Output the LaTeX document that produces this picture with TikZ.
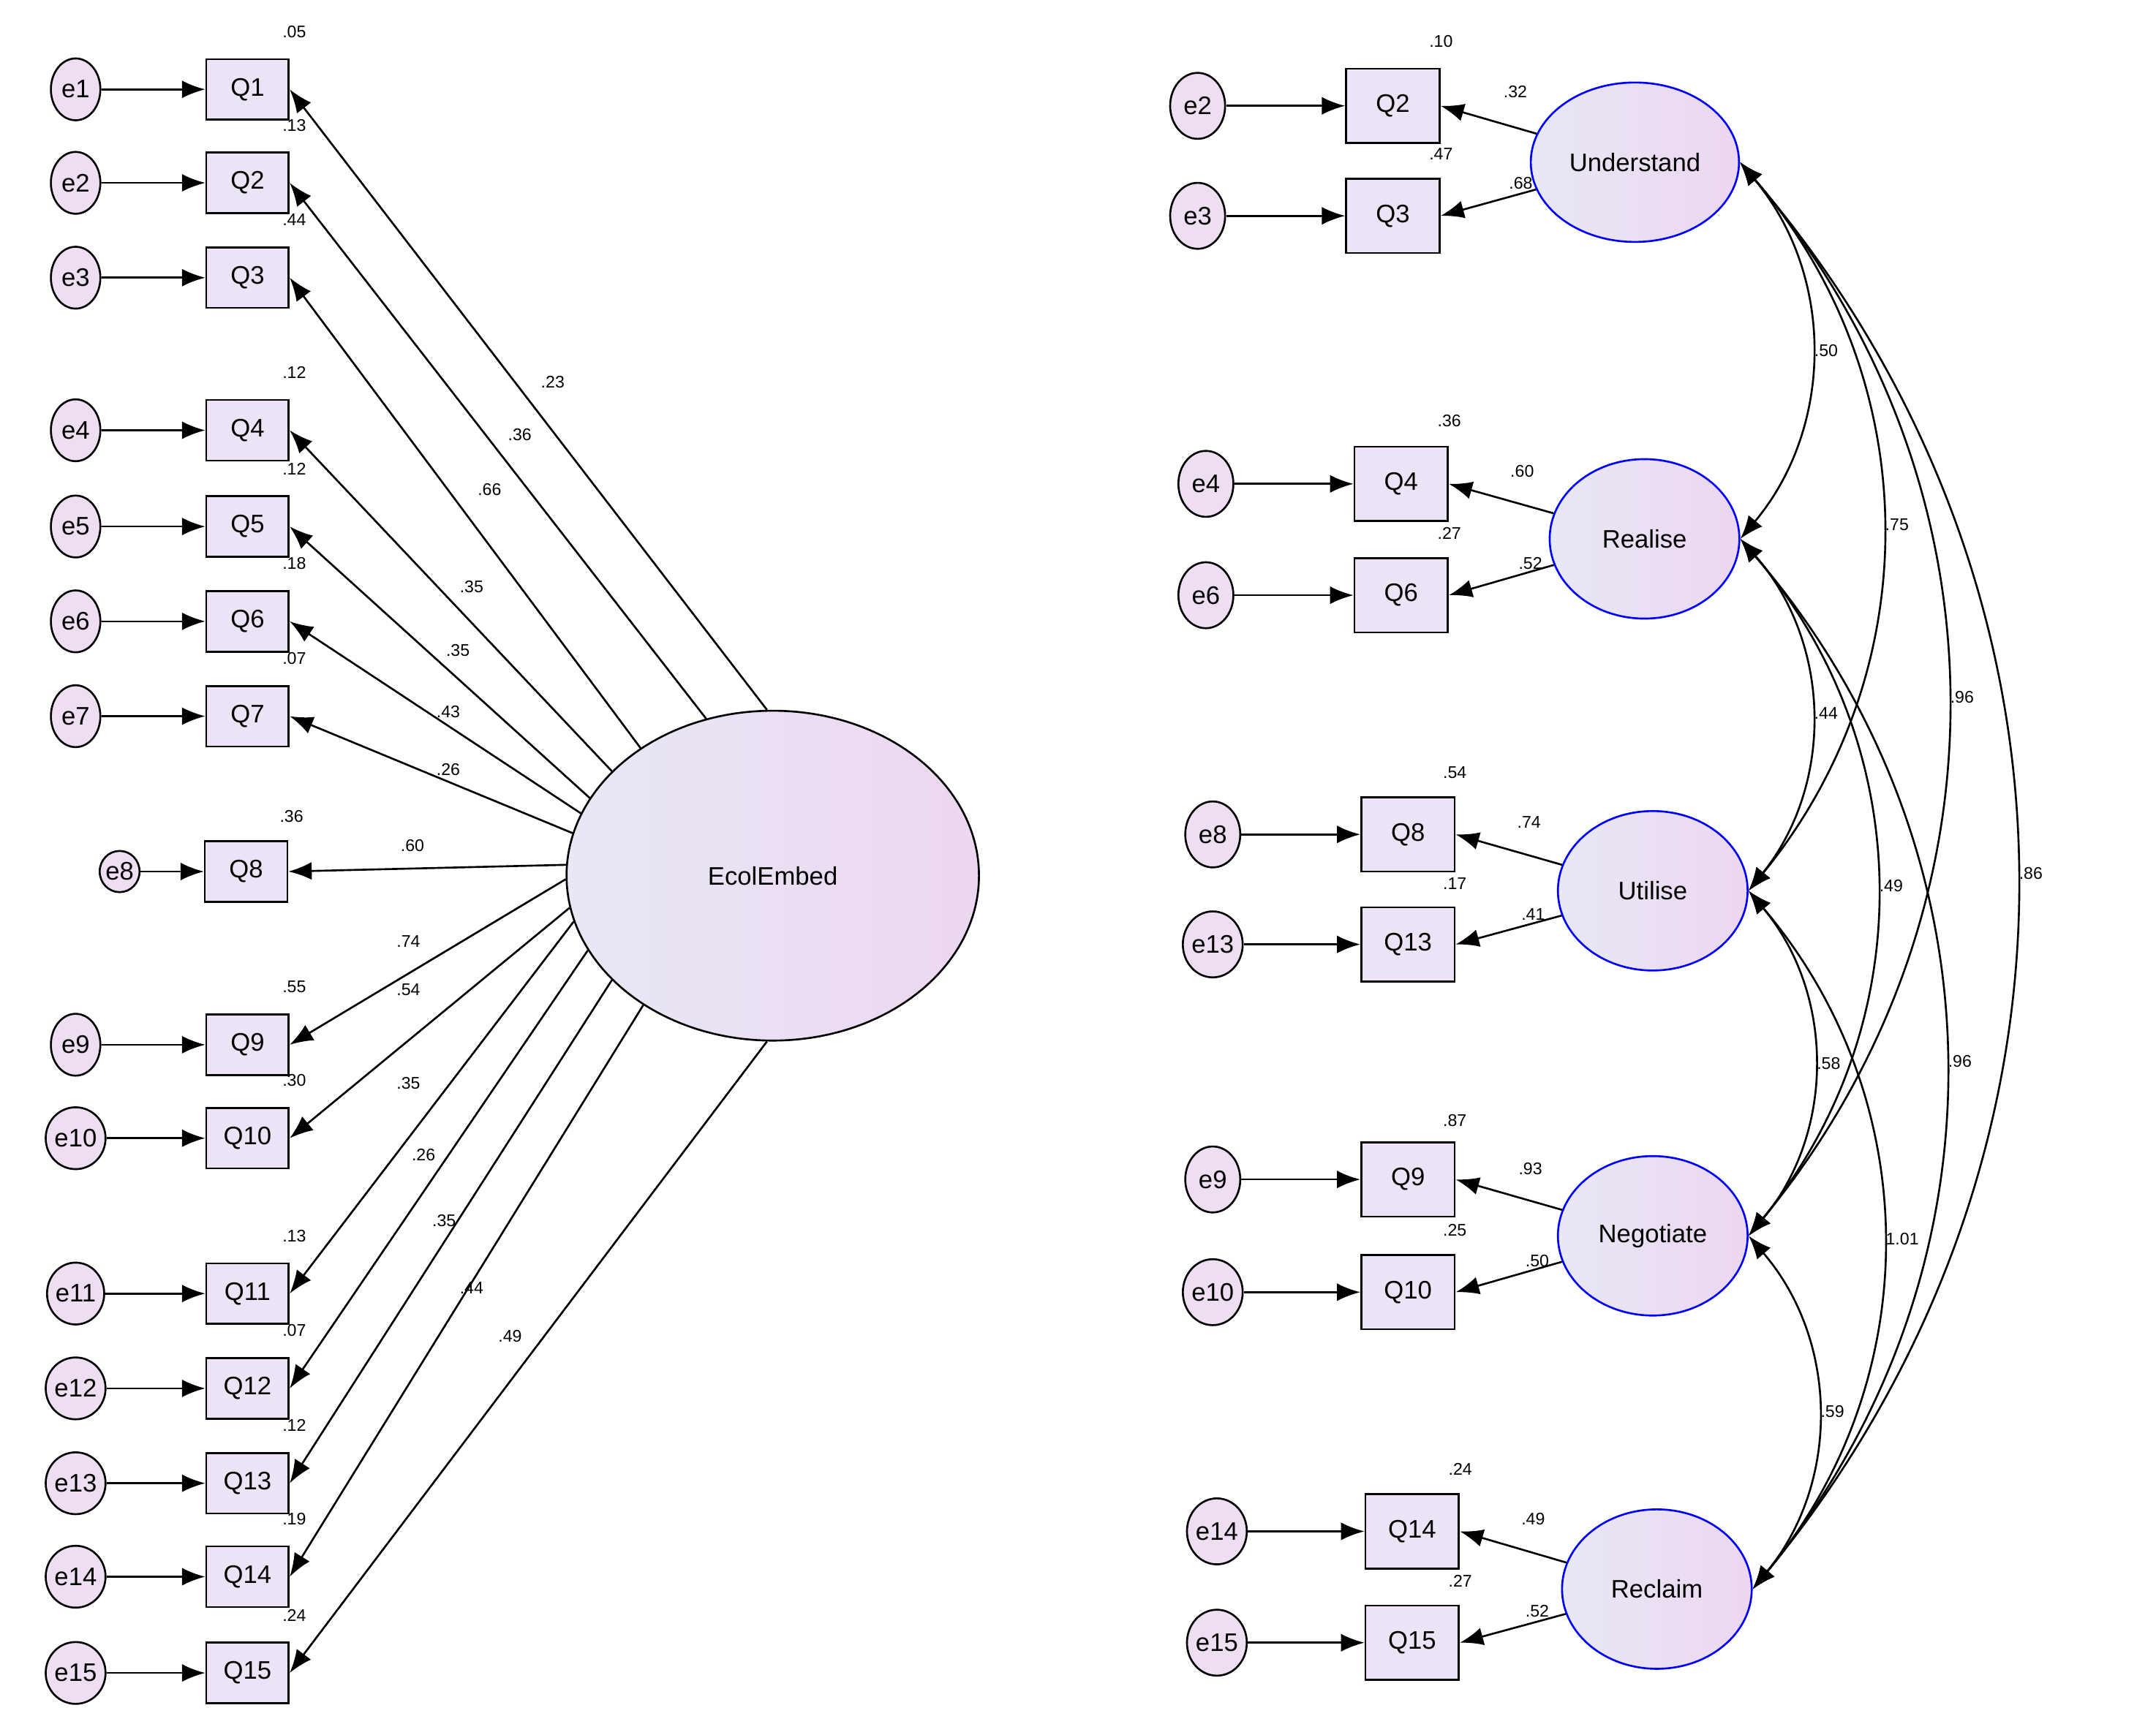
\documentclass[tikz,border=0pt]{standalone}
\usepackage{fontspec}
\setmainfont{Liberation Sans}
\usetikzlibrary{shapes.geometric,arrows.meta}
\begin{document}
\begin{tikzpicture}[x=0.02cm,y=-0.02cm,
  box/.style={draw,thick,fill={rgb,255:red,236;green,228;blue,246},minimum width=1.2cm,minimum height=0.88cm,font=\fontsize{10.5}{12}\selectfont,inner sep=0pt},
  rbox/.style={box,minimum width=1.36cm,minimum height=1.08cm},
  err/.style={draw,thick,ellipse,fill={rgb,255:red,238;green,222;blue,242},minimum width=0.72cm,minimum height=0.9cm,inner sep=0pt,font=\fontsize{10.5}{12}\selectfont},
  rerr/.style={err,minimum width=0.8cm,minimum height=0.96cm},
  lat/.style={ellipse,thick,left color={rgb,255:red,232;green,232;blue,244},right color={rgb,255:red,236;green,214;blue,242},font=\fontsize{10.5}{12}\selectfont},
  arr/.style={-{Latex[length=0.34cm,width=0.26cm]},thick},
  lab/.style={font=\fontsize{7}{8}\selectfont,inner sep=1pt},
  cov/.style={{Latex[length=0.34cm,width=0.26cm]}-{Latex[length=0.34cm,width=0.26cm]},thick,bend left=40}
]
\useasboundingbox (0,0) rectangle (1568,1262);
\node[lat,draw,minimum width=6cm,minimum height=4.8cm] (E) at (562,637) {EcolEmbed};
% left side
\foreach \i/\y/\ang/\ld/\lx/\ly/\vl in {
 1/65/92/.23/402/278/.05, 2/133/113/.36/378/316/.13, 3/202/136/.66/356/356/.44,
 4/313/147/.35/343/427/.12, 5/383/157/.35/333/473/.12, 6/452/162/.43/326/518/.18,
 7/521/168/.26/326/560/.07, 9/760/181/.74/297/685/.55, 10/828/189/.54/297/720/.30,
 11/941/193/.35/297/788/.13, 12/1010/202/.26/308/840/.07, 13/1079/213/.35/323/888/.12,
 14/1147/225/.44/343/937/.19, 15/1217/268/.49/371/972/.24}{
  \node[box] (Q\i) at (180,\y) {Q\i};
  \node[err] (e\i) at (55,\y) {e\i};
  \draw[arr] (e\i) -- (Q\i);
  \draw[arr] (E.\ang) -- (Q\i.east);
  \node[lab] (ll\i) at (\lx,\ly) {\ld};
  \node[lab] (vl\i) at (214,\y-42) {\vl};
}
\node[box] (Q8) at (179,634) {Q8};
\node[err,minimum width=0.5cm,minimum height=0.6cm] (e8) at (87,634) {e8};
\draw[arr] (e8) -- (Q8);
\draw[arr] (E.177) -- (Q8.east);
\node[lab] (ll8) at (300,615) {.60};
\node[lab] (vl8) at (212,594) {.36};
% right side
\node[lat,draw=blue,minimum width=2.76cm,minimum height=2.32cm] (U) at (1189,118) {Understand};
\node[lat,draw=blue,minimum width=2.76cm,minimum height=2.32cm] (R) at (1196,392) {Realise};
\node[lat,draw=blue,minimum width=2.76cm,minimum height=2.32cm] (T) at (1202,648) {Utilise};
\node[lat,draw=blue,minimum width=2.76cm,minimum height=2.32cm] (N) at (1202,899) {Negotiate};
\node[lat,draw=blue,minimum width=2.76cm,minimum height=2.32cm] (C) at (1205,1156) {Reclaim};
\foreach \q/\x/\y/\lv/\ld/\lx/\ly/\vv/\vx/\vy in {
 2/1013/77/U/.32/1102/67/.10/1048/30, 3/1013/157/U/.68/1106/133/.47/1048/112,
 4/1019/352/R/.60/1107/343/.36/1054/306, 6/1019/433/R/.52/1113/410/.27/1054/388,
 8/1024/607/T/.74/1112/598/.54/1058/562, 13/1024/687/T/.41/1115/665/.17/1058/643,
 9/1024/858/N/.93/1113/850/.87/1058/815, 10/1024/940/N/.50/1118/917/.25/1058/895,
 14/1027/1114/C/.49/1115/1105/.24/1062/1069, 15/1027/1195/C/.52/1118/1172/.27/1062/1150}{
  \node[rbox] (RQ\q) at (\x,\y) {Q\q};
  \node[rerr] (Re\q) at (\x-142,\y) {e\q};
  \draw[arr] (Re\q) -- (RQ\q);
  \draw[arr] (\lv) -- (RQ\q.east);
  \node[lab] (rl\q) at (\lx,\ly) {\ld};
  \node[lab] (rv\q) at (\vx,\vy) {\vv};
}
% covariances
\draw[cov] (U.east) to node[lab,right] (c1) {.50} (R.east);
\draw[cov] (U.east) to node[lab,right] (c2) {.75} (T.east);
\draw[cov] (U.east) to node[lab,right] (c3) {.96} (N.east);
\draw[cov] (U.east) to node[lab,right] (c4) {.86} (C.east);
\draw[cov] (R.east) to node[lab,right] (c5) {.44} (T.east);
\draw[cov] (R.east) to node[lab,right] (c6) {.49} (N.east);
\draw[cov] (R.east) to node[lab,right] (c7) {.96} (C.east);
\draw[cov] (T.east) to node[lab,right] (c8) {.58} (N.east);
\draw[cov] (T.east) to node[lab,right] (c9) {1.01} (C.east);
\draw[cov] (N.east) to node[lab,right] (c10) {.59} (C.east);
\end{tikzpicture}
\end{document}
